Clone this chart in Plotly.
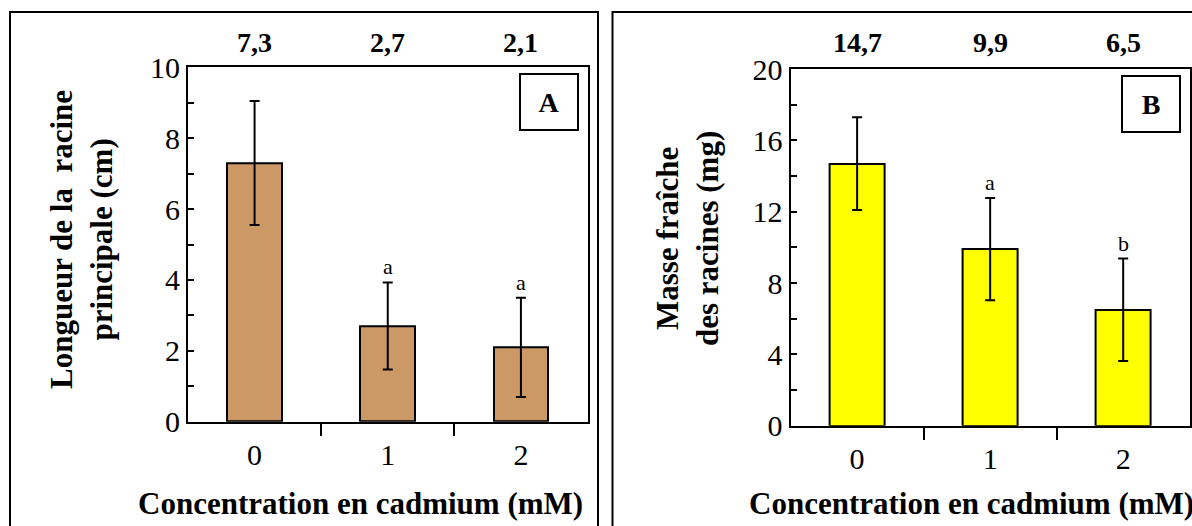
import plotly.graph_objects as go

# Cadmium concentrations (mM) on the x axis
conc = [0, 1, 2]
conc_labels = ["0", "1", "2"]

# Panel A: primary root length (cm)
longueur = [7.3, 2.7, 2.1]
longueur_err = [1.75, 1.23, 1.4]
longueur_letters = ["", "a", "a"]

# Panel B: root fresh mass (mg)
masse = [14.7, 9.9, 6.5]
masse_err = [2.6, 2.87, 2.87]
masse_letters = ["", "a", "b"]

W, H = 1192, 526
SERIF = "Liberation Serif, Times New Roman, serif"


def px_x(p):
    return p / W


def px_y(p):
    return 1 - p / H


def fmt(v):
    return f"{v:.1f}".replace(".", ",")


fig = go.Figure()

panels = [
    dict(vals=longueur, err=longueur_err, letters=longueur_letters, color="#CC9966",
         xa="x", ya="y", xdom=(188, 587.5), ydom=(67.3, 421.7), ymax=10, dmaj=2, dmin=1,
         tag="A", title="Longueur de la  racine<br>principale (cm)", ytx=81, ycen=240,
         xtx=360, box=(10, 598)),
    dict(vals=masse, err=masse_err, letters=masse_letters, color="#FFFF00",
         xa="x2", ya="y2", xdom=(790.6, 1189.7), ydom=(69, 425.7), ymax=20, dmaj=4, dmin=2,
         tag="B", title="Masse fraîche<br>des racines (mg)", ytx=687, ycen=239,
         xtx=971, box=(612.5, 1210)),
]

annotations = []
shapes = []
for i, p in enumerate(panels):
    fig.add_trace(go.Bar(
        x=conc, y=p["vals"], width=0.41, xaxis=p["xa"], yaxis=p["ya"],
        marker=dict(color=p["color"], line=dict(color="black", width=2)),
        error_y=dict(type="data", array=p["err"], visible=True, color="black",
                     thickness=2, width=5),
        showlegend=False, hoverinfo="skip",
    ))
    suffix = "" if i == 0 else "2"
    common_line = dict(showline=True, linecolor="black", linewidth=2, mirror=True,
                       showgrid=False, zeroline=False, automargin=False)
    fig.layout["xaxis" + suffix] = dict(
        domain=[px_x(p["xdom"][0]), px_x(p["xdom"][1])], anchor="y" + suffix,
        range=[-0.5, 2.5], tickmode="array", tickvals=conc, ticktext=conc_labels,
        ticks="", ticklabelstandoff=5,
        minor=dict(tickmode="array", tickvals=[0.5, 1.5], ticks="outside",
                   ticklen=12, tickwidth=2, tickcolor="black"),
        tickfont=dict(family=SERIF, size=30, color="black"), **common_line)
    fig.layout["yaxis" + suffix] = dict(
        domain=[px_y(p["ydom"][1]), px_y(p["ydom"][0])], anchor="x" + suffix,
        range=[0, p["ymax"]], tickmode="linear", tick0=0, dtick=p["dmaj"],
        ticks="inside", ticklen=6, tickwidth=2, tickcolor="black",
        minor=dict(dtick=p["dmin"], ticks="inside", ticklen=6, tickwidth=2,
                   tickcolor="black"),
        tickfont=dict(family=SERIF, size=30, color="black"), **common_line)

    xref = p["xa"]
    yref = p["ya"]
    # Mean values printed above the frame
    for c, v in zip(conc, p["vals"]):
        annotations.append(dict(x=c, y=px_y(43), xref=xref, yref="paper",
                                xanchor="center", yanchor="middle",
                                text=f"<b>{fmt(v)}</b>", showarrow=False,
                                font=dict(family=SERIF, size=28, color="black")))
    # Significance letters over the error bars
    for c, v, e, l in zip(conc, p["vals"], p["err"], p["letters"]):
        if l:
            annotations.append(dict(x=c, y=v + e, xref=xref, yref=yref, text=l,
                                    showarrow=False, yanchor="bottom", yshift=1,
                                    font=dict(family=SERIF, size=22, color="black")))
    # Panel tag in a framed box
    annotations.append(dict(x=1, y=1, xref=xref + " domain", yref=yref + " domain",
                            xanchor="right", yanchor="top", xshift=-9, yshift=-6,
                            text=f"<b>{p['tag']}</b>", showarrow=False,
                            width=56, height=54, borderpad=0, bordercolor="black",
                            borderwidth=2, bgcolor="white",
                            font=dict(family=SERIF, size=28, color="black")))
    # Axis titles
    annotations.append(dict(x=px_x(p["ytx"]), y=px_y(p["ycen"]), xref="paper", yref="paper",
                            text=f"<b>{p['title']}</b>", textangle=-90, showarrow=False,
                            xanchor="center", yanchor="middle",
                            font=dict(family=SERIF, size=31, color="black")))
    annotations.append(dict(x=px_x(p["xtx"]), y=px_y(503), xref="paper", yref="paper",
                            text="<b>Concentration en cadmium (mM)</b>", showarrow=False,
                            xanchor="center", yanchor="middle",
                            font=dict(family=SERIF, size=31, color="black")))
    # Outer panel frame
    shapes.append(dict(type="rect", xref="paper", yref="paper",
                       x0=px_x(p["box"][0]), x1=px_x(p["box"][1]),
                       y0=px_y(540), y1=px_y(12),
                       line=dict(color="black", width=2), fillcolor="rgba(0,0,0,0)"))

fig.update_layout(
    width=W, height=H, margin=dict(l=0, r=0, t=0, b=0, autoexpand=False),
    paper_bgcolor="white", plot_bgcolor="white",
    annotations=annotations, shapes=shapes, bargap=0,
)

fig.write_html("out.html")
